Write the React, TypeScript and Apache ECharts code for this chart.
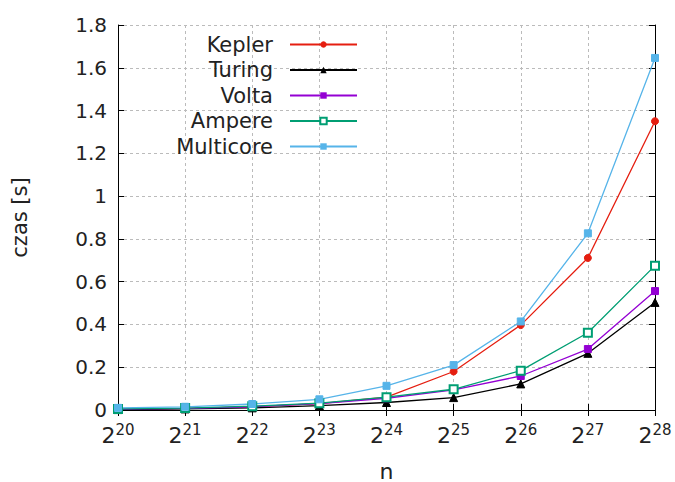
import React, { useEffect, useRef } from "react";
import * as echarts from "echarts";

const exponents = ["20", "21", "22", "23", "24", "25", "26", "27", "28"];
const kepler = [0.004, 0.008, 0.015, 0.03, 0.06, 0.18, 0.397, 0.711, 1.35];
const turing = [0.002, 0.005, 0.01, 0.02, 0.035, 0.058, 0.122, 0.265, 0.503];
const volta = [0.004, 0.008, 0.015, 0.03, 0.055, 0.094, 0.159, 0.285, 0.556];
const ampere = [0.005, 0.009, 0.018, 0.032, 0.06, 0.097, 0.184, 0.361, 0.675];
const multicore = [0.01, 0.015, 0.028, 0.05, 0.113, 0.21, 0.414, 0.826, 1.646];
const yTicks = { min: 0, max: 1.8, interval: 0.2 };

const FONT = "DejaVu Sans";
const TXT = "#222";

export default function App() {
  const ref = useRef<HTMLDivElement>(null);
  useEffect(() => {
    if (!ref.current) return;
    document.body.style.margin = "0";
    const chart = echarts.init(ref.current, undefined, { renderer: "svg" });
    const mk = (name: string, data: number[], color: string, symbol: string, size: number) => ({
      name,
      type: "line",
      data,
      symbol,
      symbolSize: size,
      showAllSymbol: true,
      lineStyle: { color, width: 1.3 },
      itemStyle: { color, borderColor: color },
      z: 3,
    });
    chart.setOption({
      animation: false,
      textStyle: { fontFamily: FONT },
      grid: { left: 118, right: 20, top: 25, bottom: 72, containLabel: false, outerBoundsMode: "none" },
      legend: {
        orient: "vertical",
        align: "right",
        right: 312,
        top: 29,
        itemWidth: 67,
        itemHeight: 8,
        itemGap: 4.5,
        textStyle: { fontSize: 21, color: TXT, fontFamily: FONT, padding: [0, 12, 0, 0] },
        data: ["Kepler", "Turing", "Volta", "Ampere", "Multicore"],
      },
      xAxis: [
        {
          type: "category",
          data: exponents,
          boundaryGap: false,
          name: "n",
          nameLocation: "middle",
          nameGap: 50,
          nameTextStyle: { fontSize: 22, color: TXT, fontFamily: FONT },
          axisLine: { lineStyle: { color: "#000", width: 1 } },
          axisTick: { inside: true, length: 6, interval: 0, lineStyle: { color: "#000" } },
          axisLabel: {
            interval: 0,
            hideOverlap: false,
            margin: 12,
            formatter: (v: string) => `{a|2}{b|${v}}`,
            rich: {
              a: { fontSize: 22, color: TXT, fontFamily: FONT },
              b: { fontSize: 15, color: TXT, fontFamily: FONT, padding: [0, 0, 12, 0] },
            },
          },
          splitLine: { show: true, interval: 0, lineStyle: { color: "#bbb", type: [3, 3], width: 1 } },
        },
        {
          type: "category",
          data: exponents,
          boundaryGap: false,
          position: "top",
          axisLine: { lineStyle: { color: "#000", width: 1 } },
          axisTick: { inside: true, length: 6, interval: 0, lineStyle: { color: "#000" } },
          axisLabel: { show: false },
          splitLine: { show: false },
        },
      ],
      yAxis: [
        {
          type: "value",
          ...yTicks,
          name: "czas [s]",
          nameLocation: "middle",
          nameGap: 88,
          nameTextStyle: { fontSize: 21, color: TXT, fontFamily: FONT },
          axisLine: { show: true, lineStyle: { color: "#000", width: 1 } },
          axisTick: { show: true, inside: true, length: 6, lineStyle: { color: "#000" } },
          axisLabel: {
            fontSize: 20,
            color: TXT,
            margin: 11,
            formatter: (v: number) => String(parseFloat(v.toFixed(1))),
          },
          splitLine: { show: true, lineStyle: { color: "#bbb", type: [3, 3], width: 1 } },
        },
        {
          type: "value",
          ...yTicks,
          position: "right",
          axisLine: { show: true, lineStyle: { color: "#000", width: 1 } },
          axisTick: { show: true, inside: true, length: 6, lineStyle: { color: "#000" } },
          axisLabel: { show: false },
          splitLine: { show: false },
        },
      ],
      series: [
        mk("Kepler", kepler, "#e51e10", "circle", 7),
        mk("Turing", turing, "#000000", "triangle", 8),
        mk("Volta", volta, "#9400d3", "rect", 7),
        mk("Ampere", ampere, "#009e73", "emptyRect", 8),
        mk("Multicore", multicore, "#56b4e9", "rect", 7),
      ],
    });
    return () => chart.dispose();
  }, []);
  return <div ref={ref} style={{ width: 675, height: 482 }} />;
}
